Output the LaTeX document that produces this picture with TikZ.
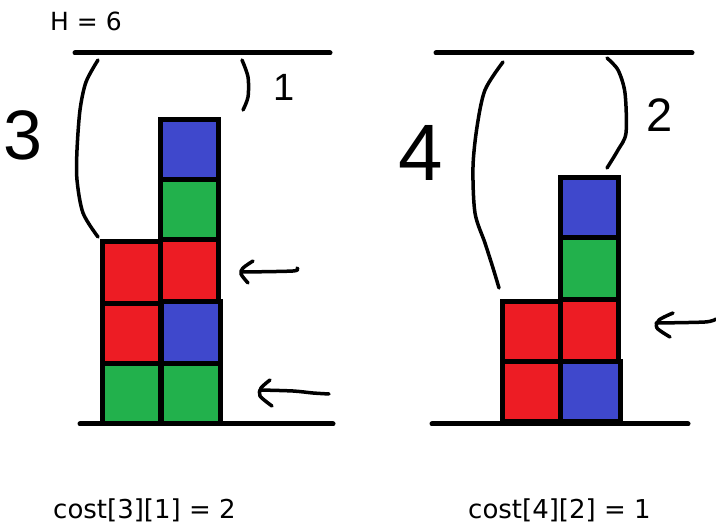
\documentclass[tikz,border=0pt]{standalone}
\usepackage{fontspec}
\newfontfamily\labfont{DejaVu Sans}
\newfontfamily\handfont{Liberation Sans}
\definecolor{pred}{HTML}{ED1C24}
\definecolor{pgreen}{HTML}{22B14C}
\definecolor{pblue}{HTML}{3F48CC}
\begin{document}
\begin{tikzpicture}[x=1pt,y=-1pt,
  blk/.style={draw=black,line width=5pt},
  ink/.style={draw=black,line width=3.5pt,line cap=round,line join=round},
  floor/.style={draw=black,line width=5pt,line cap=round},
  lab/.style={font=\labfont\fontsize{25}{30}\selectfont,inner sep=0pt},
  cost/.style={font=\labfont\fontsize{26}{30}\selectfont,inner sep=0pt},
  hand/.style={inner sep=0pt}]
\useasboundingbox (0,0) rectangle (716,526);
\fill[white] (0,0) rectangle (716,526);

% ---------- left panel ----------
\node[lab,anchor=base west] (H) at (50,31) {H = 6};
\coordinate (lt1) at (75,53); \coordinate (lt2) at (330,53);
\coordinate (lb1) at (80,424); \coordinate (lb2) at (333,424);
\draw[floor] (lt1) -- (lt2);
\draw[floor] (lb1) -- (lb2);

\filldraw[blk,fill=pred]   (102,242) rectangle (160,304);
\filldraw[blk,fill=pred]   (102,304) rectangle (160,364);
\filldraw[blk,fill=pgreen] (102,364) rectangle (160,424);
\filldraw[blk,fill=pblue]  (160,120) rectangle (218,180);
\filldraw[blk,fill=pgreen] (160,180) rectangle (218,240);
\filldraw[blk,fill=pred]   (160,240) rectangle (218,302);
\filldraw[blk,fill=pblue]  (161,302) rectangle (220,364);
\filldraw[blk,fill=pgreen] (161,364) rectangle (220,424);

\draw[ink] plot[smooth] coordinates {(98,60) (86,82) (80,110) (77,150) (77,180) (83,213) (98,237)};
\draw[ink] plot[smooth] coordinates {(242,60) (248,77) (248,97) (243,110)};
\node[hand,font=\handfont\fontsize{70}{70}\selectfont] (three) at (23,135) {3};
\node[hand,font=\handfont\fontsize{38}{38}\selectfont] (one) at (284,87) {1};

\draw[ink] plot[smooth] coordinates {(253,261) (243,268) (241,274) (248,283)};
\draw[ink] plot[smooth] coordinates {(242,272) (293,271) (297,268)};
\draw[ink] plot[smooth] coordinates {(270,380) (261,388) (260,396) (272,406)};
\draw[ink] plot[smooth] coordinates {(260,390) (293,391) (313,393) (329,394)};

\node[cost,anchor=base west] (c1) at (53,519) {cost[3][1] = 2};

% ---------- right panel ----------
\coordinate (rt1) at (436,53); \coordinate (rt2) at (692,53);
\coordinate (rb1) at (432,424); \coordinate (rb2) at (688,424);
\draw[floor] (rt1) -- (rt2);
\draw[floor] (rb1) -- (rb2);

\filldraw[blk,fill=pred]   (502,302) rectangle (560,362);
\filldraw[blk,fill=pred]   (502,362) rectangle (560,422);
\filldraw[blk,fill=pblue]  (560,178) rectangle (618,238);
\filldraw[blk,fill=pgreen] (560,238) rectangle (618,300);
\filldraw[blk,fill=pred]   (560,300) rectangle (618,362);
\filldraw[blk,fill=pblue]  (560,362) rectangle (620,422);

\draw[ink] plot[smooth] coordinates {(503,62) (485,90) (477,127) (473,167) (475,213) (485,243) (493,268) (499,288)};
\draw[ink] plot[smooth] coordinates {(607,58) (618,70) (625,93) (626,133) (618,150) (607,168)};
\node[hand,font=\handfont\fontsize{80}{80}\selectfont] (four) at (421,153) {4};
\node[hand,font=\handfont\fontsize{47}{47}\selectfont] (two) at (660,115) {2};

\draw[ink] plot[smooth] coordinates {(673,313) (659,320) (657,328) (670,337)};
\draw[ink] plot[smooth] coordinates {(656,323) (705,322) (716,319)};

\node[cost,anchor=base west] (c2) at (468,519) {cost[4][2] = 1};
\end{tikzpicture}
\end{document}
